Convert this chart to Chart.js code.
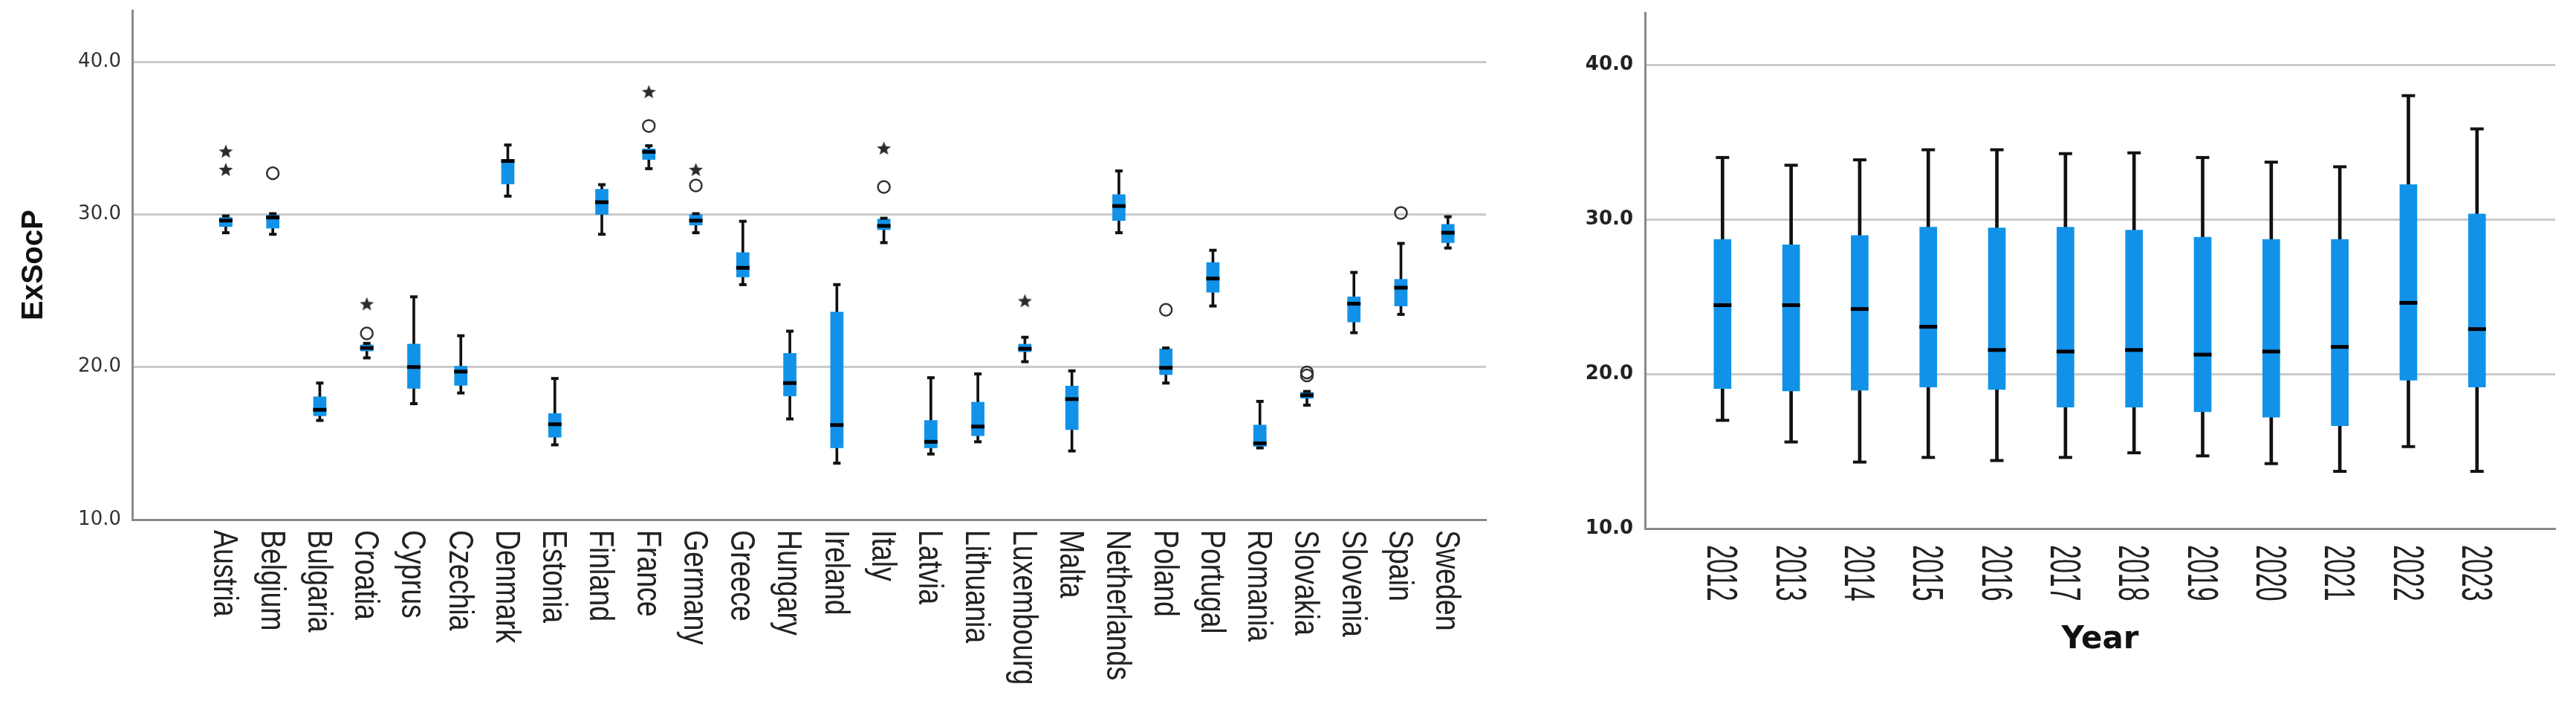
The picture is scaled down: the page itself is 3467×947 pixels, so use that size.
<!DOCTYPE html>
<html>
<head>
<meta charset="utf-8">
<title>ExSocP box plots</title>
<script src="https://cdn.jsdelivr.net/npm/chart.js@4.4.1/dist/chart.umd.min.js"></script>
<style>
  html, body { margin: 0; padding: 0; background: #fff; }
  #wrap { position: relative; width: 3467px; height: 947px; overflow: hidden; }
  #box-country { position: absolute; left: 0; top: 0; }
  #box-year { position: absolute; left: 2040px; top: 0; }
</style>
</head>
<body>
<div id="wrap">
  <canvas id="box-country" width="2040" height="947"></canvas>
  <canvas id="box-year" width="1427" height="947"></canvas>
</div>
<script>
"use strict";

// ---- data: ExSocP by country ----
var countries = ["Austria", "Belgium", "Bulgaria", "Croatia", "Cyprus", "Czechia", "Denmark", "Estonia",
  "Finland", "France", "Germany", "Greece", "Hungary", "Ireland", "Italy", "Latvia", "Lithuania",
  "Luxembourg", "Malta", "Netherlands", "Poland", "Portugal", "Romania", "Slovakia", "Slovenia",
  "Spain", "Sweden"];
var cMin = [28.8, 28.7, 16.5, 20.6, 17.6, 18.3, 31.2, 14.9, 28.7, 33.0, 28.8, 25.4, 16.6, 13.7, 28.15,
  14.3, 15.1, 20.35, 14.5, 28.8, 18.95, 24.0, 14.7, 17.5, 22.25, 23.45, 27.8];
var cQ1 = [29.2, 29.1, 16.8, 21.05, 18.6, 18.8, 32.0, 15.4, 30.0, 33.6, 29.3, 25.9, 18.1, 14.7, 29.0,
  14.7, 15.5, 21.0, 15.9, 29.6, 19.5, 24.9, 14.8, 17.95, 22.95, 24.0, 28.15];
var cMed = [29.6, 29.8, 17.2, 21.25, 20.0, 19.7, 33.5, 16.25, 30.8, 34.1, 29.6, 26.5, 18.95, 16.2, 29.25,
  15.1, 16.1, 21.2, 17.9, 30.55, 19.95, 25.8, 15.0, 18.15, 24.15, 25.2, 28.8];
var cQ3 = [29.8, 29.95, 18.05, 21.45, 21.5, 20.05, 33.6, 16.95, 31.65, 34.3, 30.0, 27.5, 20.9, 23.6, 29.7,
  16.5, 17.7, 21.5, 18.75, 31.3, 21.2, 26.85, 16.2, 18.35, 24.6, 25.75, 29.35];
var cMax = [29.9, 30.05, 18.95, 21.55, 24.6, 22.05, 34.55, 19.25, 31.95, 34.5, 30.05, 29.55, 22.35, 25.4, 29.75,
  19.3, 19.55, 21.95, 19.75, 32.85, 21.25, 27.65, 17.75, 18.4, 26.2, 28.1, 29.85];
// outliers (circles) and extremes (stars) per country
var cOut = [[], [32.7], [], [22.2], [], [], [], [], [], [35.8], [31.9], [], [], [], [31.8],
  [], [], [], [], [], [23.75], [], [], [19.45, 19.65], [], [30.1], []];
var cExt = [[32.9, 34.1], [], [], [24.1], [], [], [], [], [], [38.0], [32.9], [], [], [], [34.3],
  [], [], [24.3], [], [], [], [], [], [], [], [], []];

// ---- data: ExSocP by year ----
var years = ["2012", "2013", "2014", "2015", "2016", "2017", "2018", "2019", "2020", "2021", "2022", "2023"];
var yMin = [17.0, 15.6, 14.3, 14.6, 14.4, 14.6, 14.9, 14.7, 14.2, 13.7, 15.3, 13.7];
var yQ1 = [19.05, 18.9, 18.95, 19.15, 19.0, 17.85, 17.85, 17.55, 17.2, 16.65, 19.6, 19.15];
var yMed = [24.45, 24.45, 24.2, 23.05, 21.55, 21.45, 21.55, 21.25, 21.45, 21.75, 24.6, 22.9];
var yQ3 = [28.7, 28.35, 28.95, 29.5, 29.45, 29.5, 29.3, 28.85, 28.7, 28.7, 32.25, 30.35];
var yMax = [34.0, 33.5, 33.85, 34.5, 34.5, 34.25, 34.3, 34.0, 33.7, 33.4, 38.0, 35.85];

var valueTicks = [10, 20, 30, 40];

var BLUE = '#1192e8';

// filled star used for extreme values
function starImage(r) {
  var c = document.createElement('canvas');
  c.width = c.height = Math.ceil(r * 2 + 2);
  var ctx = c.getContext('2d');
  ctx.translate(c.width / 2, c.height / 2);
  ctx.beginPath();
  for (var k = 0; k < 10; k++) {
    var rad = k % 2 ? r * 0.42 : r;
    var a = -Math.PI / 2 + k * Math.PI / 5;
    ctx.lineTo(Math.cos(a) * rad, Math.sin(a) * rad);
  }
  ctx.closePath();
  ctx.fillStyle = '#2a2a2a';
  ctx.fill();
  return c;
}

function pts(vals) {
  return vals.map(function (v, i) { return { x: i, y: v }; });
}
function ranges(lo, hi) {
  return lo.map(function (v, i) { return { x: i, y: [v, hi[i]] }; });
}
function spread(groups) {
  var out = [];
  groups.forEach(function (g, i) { g.forEach(function (v) { out.push({ x: i, y: v }); }); });
  return out;
}

function boxChart(id, labels, mn, q1, md, q3, mx, outs, exts, o) {
  // category labels, turned 90deg clockwise and stretched like the original
  var labelPlugin = {
    id: 'turnedLabels',
    afterDraw: function (chart) {
      var xs = chart.scales.x, ctx = chart.ctx;
      ctx.save();
      ctx.fillStyle = '#222';
      ctx.font = o.labelFont;
      ctx.textAlign = 'left';
      ctx.textBaseline = 'middle';
      labels.forEach(function (lab, i) {
        ctx.save();
        ctx.translate(xs.getPixelForValue(i) + o.labelDx, xs.top + o.labelGap);
        ctx.rotate(Math.PI / 2);
        ctx.scale(1, o.labelStretch);
        ctx.fillText(lab, 0, 0);
        ctx.restore();
      });
      ctx.restore();
    }
  };

  var datasets = [
    { type: 'bar', data: ranges(mn, mx), backgroundColor: '#111', grouped: false,
      barThickness: o.whisker, maxBarThickness: o.whisker, order: 3 },
    { type: 'bar', data: ranges(q1, q3), backgroundColor: BLUE, grouped: false,
      barThickness: o.box, maxBarThickness: o.box, order: 2 },
    { type: 'scatter', data: pts(mn).concat(pts(mx)), pointStyle: 'line', pointRadius: o.cap / 2,
      pointBorderWidth: 4, pointBorderColor: '#111', order: 1 },
    { type: 'scatter', data: pts(md), pointStyle: 'line', pointRadius: o.box / 2 + 0.5,
      pointBorderWidth: 5, pointBorderColor: '#000', order: 1 }
  ];
  if (outs) {
    datasets.push({ type: 'scatter', data: spread(outs), pointStyle: 'circle', pointRadius: 8,
      pointBorderWidth: 2.5, pointBorderColor: '#333', pointBackgroundColor: 'rgba(0,0,0,0)', order: 0 });
    datasets.push({ type: 'scatter', data: spread(exts), pointStyle: starImage(10), order: 0 });
  }

  return new Chart(document.getElementById(id), {
    type: 'bar',
    data: { datasets: datasets },
    plugins: [labelPlugin],
    options: {
      responsive: false,
      animation: false,
      events: [],
      layout: { padding: { top: 6, right: o.padRight, left: 0, bottom: 0 } },
      plugins: { legend: { display: false }, tooltip: { enabled: false } },
      scales: {
        x: {
          type: 'linear', min: o.xMin, max: o.xMax, offset: false,
          ticks: { display: false },
          grid: { display: false, drawTicks: false, offset: false },
          border: { display: true, color: '#8a8a8a', width: 3 },
          title: o.xTitle ? {
            display: true, text: o.xTitle, color: '#111',
            font: { family: 'DejaVu Sans', size: 42, weight: 'bold' },
            padding: { top: 0, bottom: o.xTitlePad }
          } : { display: false },
          afterFit: function (s) { s.height = o.xAxisH; s.paddingLeft = 0; s.paddingRight = 0; }
        },
        y: {
          min: 10, max: 43.37,
          afterBuildTicks: function (s) {
            s.ticks = valueTicks.map(function (v) { return { value: v }; });
          },
          ticks: {
            padding: o.tickPad, color: o.tickColor,
            font: { family: 'DejaVu Sans', size: o.tickSize, weight: o.tickWeight },
            callback: function (v) { return v.toFixed(1); }
          },
          grid: {
            drawTicks: false, lineWidth: 3,
            color: function (c) { return c.tick && c.tick.value === 10 ? 'rgba(0,0,0,0)' : '#cacaca'; }
          },
          border: { display: true, color: '#8a8a8a', width: 3 },
          title: o.yTitle ? {
            display: true, text: o.yTitle, color: '#111',
            font: { family: 'Liberation Sans', size: 40, weight: 'bold' },
            padding: { top: 22, bottom: 0 }
          } : { display: false },
          afterFit: function (s) { s.width = o.yAxisW; s.paddingTop = 0; s.paddingBottom = 0; }
        }
      }
    }
  });
}

// Box plot 1: by country
boxChart('box-country', countries, cMin, cQ1, cMed, cQ3, cMax, cOut, cExt, {
  xMin: -1.99, xMax: 26.81, yAxisW: 178, xAxisH: 248, padRight: 40,
  whisker: 3, box: 17, cap: 10,
  tickPad: 15, tickColor: '#333', tickSize: 26, tickWeight: 'normal',
  labelFont: '37.5px "Liberation Sans", Arial, sans-serif', labelStretch: 1.22, labelDx: -3, labelGap: 14,
  yTitle: 'ExSocP'
});

// Box plot 2: by year
boxChart('box-year', years, yMin, yQ1, yMed, yQ3, yMax, null, null, {
  xMin: -1.13, xMax: 12.14, yAxisW: 174, xAxisH: 236, padRight: 28,
  whisker: 4, box: 23, cap: 18,
  tickPad: 16, tickColor: '#222', tickSize: 26, tickWeight: 'bold',
  labelFont: '34px "Liberation Sans", Arial, sans-serif', labelStretch: 1.7, labelDx: -4, labelGap: 22,
  xTitle: 'Year', xTitlePad: 61
});
</script>
</body>
</html>
